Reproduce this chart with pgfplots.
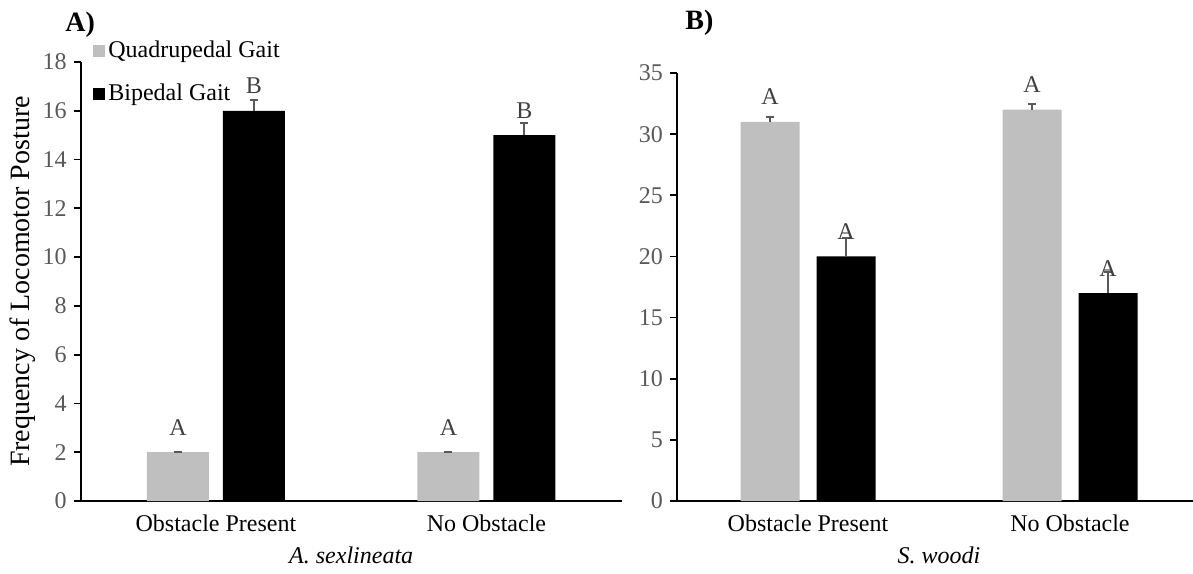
\documentclass[border=0pt]{standalone}
\usepackage{pgfplots}
\pgfplotsset{compat=1.18}
\usepackage{fontspec}
\setmainfont{Liberation Serif}
\definecolor{barGrey}{HTML}{BFBFBF}
\definecolor{tickGrey}{HTML}{595959}
\definecolor{labGrey}{HTML}{404040}

\pgfplotsset{
  panel/.style={
    scale only axis,
    anchor=south west,
    axis x line*=bottom, axis y line*=left,
    axis line style={-, black, line width=0.9pt},
    xmin=-0.5, xmax=1.5,
    xtick={0,1}, xticklabels={Obstacle Present, No Obstacle},
    x tick style={draw=none},
    y tick style={black, line width=0.9pt},
    major tick length=3.5pt,
    tick align=outside,
    ymin=0,
    font=\fontsize{12}{14}\selectfont,
    yticklabel style={color=tickGrey},
    xticklabel style={color=black},
    /pgf/number format/assume math mode=true,
    ybar,
    error bars/y dir=plus, error bars/y explicit,
    error bars/error bar style={color=tickGrey, line width=1pt},
    error bars/error mark options={rotate=90, mark size=2pt, color=tickGrey, line width=1pt},
    nodes near coords, point meta=explicit symbolic,
    nodes near coords style={font=\fontsize{12}{14}\selectfont, color=labGrey, anchor=base, inner sep=0pt, yshift=8.5pt},
    xlabel style={at={(axis description cs:0.5,0)}, anchor=base, yshift=-31pt, color=black},
    clip=false,
  }
}

\begin{document}
\begin{tikzpicture}
\useasboundingbox (0,0) rectangle (596.5pt,286.5pt);
\clip (0,0) rectangle (596.5pt,286.5pt);

% Panel A
\begin{axis}[panel,
  at={(40.35pt,36pt)}, width=270.5pt, height=219.5pt,
  ymax=18, ytick={0,2,...,18},
  bar width=31pt,
  xlabel={\textit{A. sexlineata}},
  ylabel={Frequency of Locomotor Posture},
  ylabel style={at={(axis description cs:-0.094,0.5)}, anchor=base, color=black, font=\fontsize{14}{16}\selectfont},
  legend style={at={(axis description cs:0.0227,1.0524)}, anchor=north west,
    draw=none, fill=none, inner sep=0pt, row sep=9.5pt, column sep=1.5pt,
    font=\fontsize{12}{14}\selectfont, cells={anchor=west},
    nodes={inner sep=0pt, text height=9pt, text depth=3pt}},
  legend image code/.code={\fill[#1] (0pt,-3pt) rectangle (6pt,3pt);},
]
\addplot[fill=barGrey, draw=none, bar shift=-19pt] table[x=x, y=y, y error=e, meta=lab] {
x y e lab
0 2 0.02 A
1 2 0.02 A
};
\addplot[fill=black, draw=none, bar shift=19pt] table[x=x, y=y, y error=e, meta=lab] {
x y e lab
0 16 0.45 B
1 15 0.48 B
};
\legend{Quadrupedal Gait, Bipedal Gait}
\node[anchor=base west, font=\fontsize{14}{16}\selectfont\bfseries, inner sep=0pt] at (axis description cs:-0.029,1.0706) {A)};
\end{axis}

% Panel B
\begin{axis}[panel,
  at={(338.5pt,36pt)}, width=262pt, height=214pt,
  ymax=35, ytick={0,5,...,35},
  bar width=29.5pt,
  xlabel={\textit{S. woodi}},
]
\addplot[fill=barGrey, draw=none, bar shift=-19pt] table[x=x, y=y, y error=e, meta=lab] {
x y e lab
0 31 0.43 A
1 32 0.47 A
};
\addplot[fill=black, draw=none, bar shift=19pt] table[x=x, y=y, y error=e, meta=lab] {
x y e lab
0 20 1.5 A
1 17 1.7 A
};
\node[anchor=base west, font=\fontsize{14}{16}\selectfont\bfseries, inner sep=0pt] at (axis description cs:0.0153,1.1005) {B)};
\end{axis}
\end{tikzpicture}
\end{document}
